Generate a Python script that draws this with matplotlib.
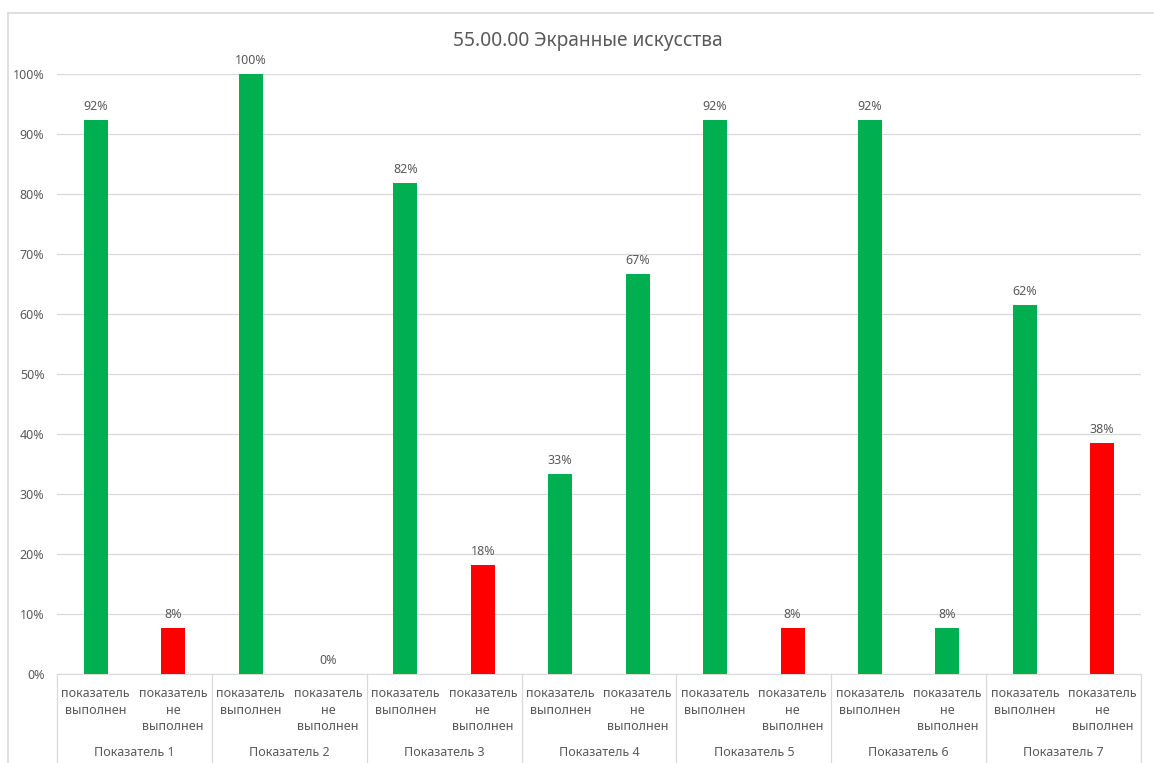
import matplotlib.pyplot as plt
from matplotlib.ticker import PercentFormatter
from matplotlib.lines import Line2D
import numpy as np

plt.rcParams['font.family'] = ['Noto Sans', 'DejaVu Sans']

title = "55.00.00 Экранные искусства"
groups = ["Показатель 1", "Показатель 2", "Показатель 3", "Показатель 4",
          "Показатель 5", "Показатель 6", "Показатель 7"]
sub_labels = ["показатель\nвыполнен", "показатель\nне\nвыполнен"]
# доли по каждому показателю: выполнен / не выполнен
done = [0.923, 1.0, 0.818, 0.333, 0.923, 0.923, 0.615]
not_done = [0.077, 0.0, 0.182, 0.667, 0.077, 0.077, 0.385]

GREEN = "#00B050"
RED = "#FF0000"
not_done_colors = [RED, RED, RED, GREEN, RED, GREEN, RED]

text_col = "#595959"
grid_col = "#D9D9D9"

fig = plt.figure(figsize=(11.54, 7.63), dpi=100)
W, H = 1154, 763
ax = fig.add_axes([57 / W, (H - 674) / H, (1141 - 57) / W, 600 / H])

n = len(groups)
values = []
colors = []
for d, nd, c in zip(done, not_done, not_done_colors):
    values += [d, nd]
    colors += [GREEN, c]
x = np.arange(2 * n)

bars = ax.bar(x, values, width=0.31, color=colors, zorder=3)
for b, v in zip(bars, values):
    ax.annotate(f"{v * 100:.0f}%", (b.get_x() + b.get_width() / 2, v),
                xytext=(0, 5), textcoords="offset points",
                ha="center", va="bottom", fontsize=9, color=text_col)

ax.set_xlim(-0.5, 2 * n - 0.5)
ax.set_ylim(0, 1)
ax.set_yticks(np.arange(0, 1.01, 0.1))
ax.yaxis.set_major_formatter(PercentFormatter(1.0, decimals=0))
ax.tick_params(axis="y", length=0, labelsize=9, labelcolor=text_col, pad=9)
ax.set_xticks([])
ax.grid(axis="y", color=grid_col, linewidth=0.9, zorder=0)
for s in ["top", "right", "left"]:
    ax.spines[s].set_visible(False)
ax.spines["bottom"].set_color(grid_col)

# подписи категорий в два уровня
trans = ax.get_xaxis_transform()
for i in range(2 * n):
    ax.text(i, -13 / 600, sub_labels[i % 2], transform=trans, ha="center",
            va="top", fontsize=9, color=text_col, linespacing=1.35)
for g in range(n):
    ax.text(2 * g + 0.5, -79 / 600, groups[g], transform=trans, ha="center",
            va="center", fontsize=9, color=text_col)
for g in range(n + 1):
    ax.add_line(Line2D([2 * g - 0.5, 2 * g - 0.5], [0, -0.2], transform=trans,
                       color=grid_col, linewidth=0.9, clip_on=False))

fig.text(588 / W, 1 - 41 / H, title, ha="center", va="center",
         fontsize=13.8, color=text_col)

# рамка области диаграммы
fig.add_artist(Line2D([8 / W, 8 / W], [0, 1 - 13 / H], transform=fig.transFigure,
                      color=grid_col, linewidth=1.2))
fig.add_artist(Line2D([8 / W, 1], [1 - 13 / H, 1 - 13 / H], transform=fig.transFigure,
                      color=grid_col, linewidth=1.2))

fig.savefig("out.png", dpi=100)
